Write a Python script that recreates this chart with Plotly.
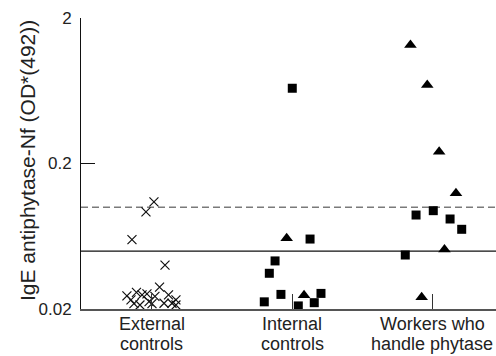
import math
import plotly.graph_objects as go

# ---- data ----
categories = ["External<br>controls", "Internal<br>controls", "Workers who<br>handle phytase"]
cat_pos = [1, 2, 3]

ext_x = [1.014, 0.957, 0.857, 1.093, 1.054, 0.821, 0.85, 0.889, 0.871, 0.929, 0.914,
         0.964, 0.979, 1.021, 1.0, 1.086, 1.118, 1.143, 1.171, 1.171]
ext_y = [0.109, 0.093, 0.060, 0.040, 0.0283, 0.0246, 0.0231, 0.0260, 0.0218, 0.0250, 0.0213,
         0.0254, 0.0225, 0.0244, 0.0218, 0.0219, 0.0250, 0.0219, 0.0231, 0.0213]

int_sq_x = [2.002, 2.129, 1.879, 1.838, 1.802, 1.921, 2.207, 2.159, 2.045]
int_sq_y = [0.658, 0.0605, 0.0428, 0.0352, 0.0224, 0.0252, 0.0256, 0.0221, 0.0210]
int_tri_x = [1.962, 2.086]
int_tri_y = [0.0612, 0.0249]

wrk_tri_x = [2.846, 2.966, 3.051, 3.171, 3.089, 2.926]
wrk_tri_y = [1.304, 0.692, 0.241, 0.125, 0.0513, 0.0241]
wrk_sq_x = [2.886, 3.009, 3.129, 3.212, 2.809]
wrk_sq_y = [0.0885, 0.0948, 0.0831, 0.0706, 0.0470]

dashed_cutoff = 0.1
solid_cutoff = 0.05

y_ticks = [0.02, 0.2, 2]
y_ticktext = ["0.02", "0.2", "2"]
y_title = "IgE antiphytase-Nf (OD*(492))"

X_RANGE = [0.493, 3.457]

FONT = "Liberation Sans, Arial, sans-serif"
INK = "#222222"

fig = go.Figure()

# cut-off lines
fig.add_trace(go.Scatter(x=X_RANGE, y=[dashed_cutoff, dashed_cutoff], mode="lines",
                         line=dict(color="#7a7a7a", width=1.4, dash="7px,4px"),
                         cliponaxis=False, hoverinfo="skip"))
fig.add_trace(go.Scatter(x=X_RANGE, y=[solid_cutoff, solid_cutoff], mode="lines",
                         line=dict(color="#111111", width=1.1), cliponaxis=False,
                         hoverinfo="skip"))

fig.add_trace(go.Scatter(x=ext_x, y=ext_y, mode="markers",
                         marker=dict(symbol="x-thin", size=9,
                                     line=dict(width=1.2, color="#111111"))))
sq = dict(symbol="square", size=9, color="#000000")
tri = dict(symbol="triangle-up", size=11, color="#000000")
fig.add_trace(go.Scatter(x=int_sq_x, y=int_sq_y, mode="markers", marker=sq))
fig.add_trace(go.Scatter(x=int_tri_x, y=int_tri_y, mode="markers", marker=tri))
fig.add_trace(go.Scatter(x=wrk_sq_x, y=wrk_sq_y, mode="markers", marker=sq))
fig.add_trace(go.Scatter(x=wrk_tri_x, y=wrk_tri_y, mode="markers", marker=tri))

# category labels, one annotation per line
annotations = []
for pos, lab in zip(cat_pos, categories):
    for i, line in enumerate(lab.split("<br>")):
        annotations.append(dict(x=pos, xref="x", y=0, yref="paper",
                                yanchor="middle", xanchor="center",
                                yshift=-15 - 20 * i, showarrow=False, text=line,
                                font=dict(size=18, family=FONT, color=INK)))
# y-axis title
annotations.append(dict(x=0, xref="paper", xshift=-54, y=0.5, yref="paper", yshift=2.5,
                        xanchor="center", yanchor="middle", textangle=-90,
                        showarrow=False, text=y_title,
                        font=dict(size=21, family=FONT, color=INK)))

fig.update_layout(
    width=496, height=356,
    margin=dict(l=81, r=0, t=18, b=47),
    paper_bgcolor="white", plot_bgcolor="white",
    showlegend=False,
    font=dict(family=FONT, color=INK),
    annotations=annotations,
    xaxis=dict(range=X_RANGE, tickvals=cat_pos, showticklabels=False,
               ticks="inside", ticklen=15, tickcolor="#333333", tickwidth=1,
               showline=True, linecolor="#555555", linewidth=1.5,
               showgrid=False, zeroline=False, automargin=False),
    yaxis=dict(type="log", range=[math.log10(0.02), math.log10(2)],
               tickvals=y_ticks, ticktext=y_ticktext,
               ticks="inside", ticklen=14, tickcolor="#111111", tickwidth=1,
               showline=True, linecolor="#111111", linewidth=1,
               showgrid=False, zeroline=False, automargin=False,
               ticklabelstandoff=5,
               tickfont=dict(size=17, family=FONT, color=INK)),
)

fig.write_html("out.html", config={"displayModeBar": False},
               post_script="document.body.style.margin='0px';document.body.style.overflow='hidden';")
